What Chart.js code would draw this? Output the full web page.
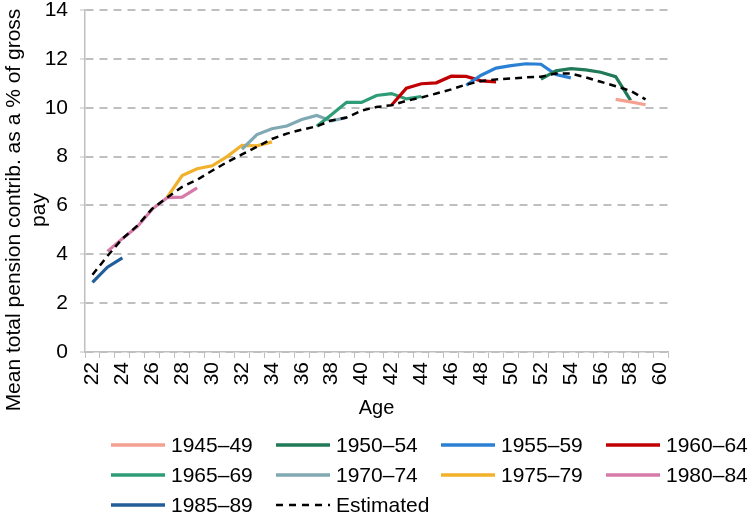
<!DOCTYPE html>
<html>
<head>
<meta charset="utf-8">
<script src="https://cdn.jsdelivr.net/npm/chart.js@4/dist/chart.umd.min.js"></script>
<style>
  html, body { margin: 0; padding: 0; background: #fff; }
  #wrap { position: relative; width: 754px; height: 516px; font-family: 'Liberation Sans', Arial, sans-serif; color: #000; }
  #ytitle {
    position: absolute; left: -185px; top: 185px; width: 420px; height: 50px;
    font-size: 21px; line-height: 25px; text-align: center; white-space: nowrap;
    transform: rotate(-90deg); transform-origin: 50% 50%;
  }
  .leg { position: absolute; height: 24px; display: flex; align-items: center; font-size: 21px; white-space: nowrap; }
  .leg svg { margin-right: 6px; }
</style>
</head>
<body>
<div id="wrap">
  <canvas id="chart" width="754" height="516"></canvas>
  <div id="ytitle">Mean total pension contrib. as a % of gross<br>pay</div>
</div>
<script>
// ages on the category axis
const ages = [22, 23, 24, 25, 26, 27, 28, 29, 30, 31, 32, 33, 34, 35, 36, 37, 38, 39, 40,
              41, 42, 43, 44, 45, 46, 47, 48, 49, 50, 51, 52, 53, 54, 55, 56, 57, 58, 59, 60];
const yTicks = [0, 2, 4, 6, 8, 10, 12, 14];

// cohort series: values, starting at the given age
const cohortNames = ['1945–49', '1950–54', '1955–59', '1960–64', '1965–69',
                     '1970–74', '1975–79', '1980–84', '1985–89'];
const cohortStart = [57, 52, 47, 42, 37, 32, 27, 23, 22];
const c1945 = [10.34, 10.24, 10.12];
const c1950 = [11.17, 11.51, 11.6, 11.55, 11.45, 11.27, 10.3];
const c1955 = [10.92, 11.33, 11.62, 11.72, 11.8, 11.78, 11.36, 11.22];
const c1960 = [10.1, 10.8, 10.98, 11.02, 11.29, 11.28, 11.1, 11.06];
const c1965 = [9.24, 9.72, 10.22, 10.22, 10.5, 10.58, 10.36, 10.46];
const c1970 = [8.3, 8.9, 9.14, 9.25, 9.52, 9.68, 9.46, 9.6];
const c1975 = [6.34, 7.22, 7.5, 7.62, 8.0, 8.46, 8.44, 8.6];
const c1980 = [4.12, 4.64, 5.13, 5.85, 6.32, 6.34, 6.72];
const c1985 = [2.85, 3.47, 3.85];
const cohortValues = [c1945, c1950, c1955, c1960, c1965, c1970, c1975, c1980, c1985];

const estimatedStart = 22;
const estimated = [3.16, 3.93, 4.64, 5.17, 5.87, 6.32, 6.76, 7.05, 7.42, 7.77,
                   8.09, 8.4, 8.72, 8.94, 9.1, 9.24, 9.48, 9.6, 9.88, 10.03,
                   10.1, 10.28, 10.42, 10.58, 10.75, 10.95, 11.09, 11.16, 11.2, 11.24,
                   11.27, 11.4, 11.4, 11.24, 11.06, 10.88, 10.69, 10.34];

const cohortColors = ['#f4a191', '#217a57', '#2b80d4', '#c00000', '#2e9d76',
                      '#80a9b3', '#f2b12a', '#d67aa9', '#225e99'];

// pad a series with nulls so it lines up with the age labels
function onAges(start, values) {
    return ages.map(a => {
        const i = a - start;
        return i >= 0 && i < values.length ? values[i] : null;
    });
}

const datasets = cohortNames.map((name, k) => ({
    label: name,
    data: onAges(cohortStart[k], cohortValues[k]),
    borderColor: cohortColors[k],
    borderWidth: 3.2,
    order: 1,
}));
datasets.push({
    label: 'Estimated',
    data: onAges(estimatedStart, estimated),
    borderColor: '#000',
    borderWidth: 2.5,
    borderDash: [7, 5],
    order: 0,
});

Chart.defaults.font.family = "'Liberation Sans', Arial, sans-serif";
Chart.defaults.font.size = 21;
Chart.defaults.color = '#000';

const gridGrey = '#bfbfbf';

new Chart(document.getElementById('chart'), {
    type: 'line',
    data: {labels: ages.map(String), datasets},
    options: {
        responsive: false,
        animation: false,
        spanGaps: false,
        elements: {point: {radius: 0}, line: {tension: 0}},
        layout: {padding: {left: 0, right: 86, top: 10, bottom: 86}},
        plugins: {legend: {display: false}, tooltip: {enabled: false}},
        scales: {
            x: {
                type: 'category',
                offset: true,
                afterFit: s => { s.height = 78; },
                grid: {offset: true, drawOnChartArea: false, drawTicks: true, tickLength: 6,
                       tickColor: gridGrey, tickWidth: 1},
                border: {color: gridGrey, width: 1.5},
                ticks: {
                    autoSkip: false, minRotation: 90, maxRotation: 90, padding: 4,
                    font: {size: 21, lineHeight: 1},
                    callback(v, i) { return i % 2 === 0 ? this.getLabelForValue(v) : ''; },
                },
                title: {display: true, text: 'Age', font: {size: 20}, padding: {top: 0, bottom: 10}},
            },
            y: {
                min: 0, max: 14,
                // fixed axis box so the plot starts at the same spot as the original
                afterFit: s => { s.width = 85; s.paddingTop = 0; s.paddingBottom = 0; },
                afterBuildTicks: s => { s.ticks = yTicks.map(v => ({value: v})); },
                grid: {color: gridGrey, lineWidth: 2, drawTicks: true, tickLength: 5,
                       tickColor: gridGrey, tickWidth: 1, tickBorderDash: []},
                border: {color: gridGrey, width: 1.5, dash: [8, 6]},
                ticks: {padding: 12, font: {size: 21}},
            },
        },
    },
});

// legend laid out in four fixed columns like the original
const legendItems = cohortNames.map((n, k) => ({name: n, color: cohortColors[k], dash: ''}));
legendItems.push({name: 'Estimated', color: '#000', dash: '7,6'});
const colX = [111, 276, 441, 606];
const rowY = [445, 475, 505];
const wrap = document.getElementById('wrap');
legendItems.forEach((it, i) => {
    const el = document.createElement('div');
    el.className = 'leg';
    el.style.left = colX[i % 4] + 'px';
    el.style.top = (rowY[Math.floor(i / 4)] - 12) + 'px';
    const w = it.dash ? 2.5 : 3.5;
    el.innerHTML = '<svg width="54" height="6"><line x1="0" y1="3" x2="54" y2="3" stroke="' + it.color +
        '" stroke-width="' + w + '"' + (it.dash ? ' stroke-dasharray="' + it.dash + '"' : '') + '/></svg>' +
        '<span>' + it.name + '</span>';
    wrap.appendChild(el);
});
</script>
</body>
</html>
